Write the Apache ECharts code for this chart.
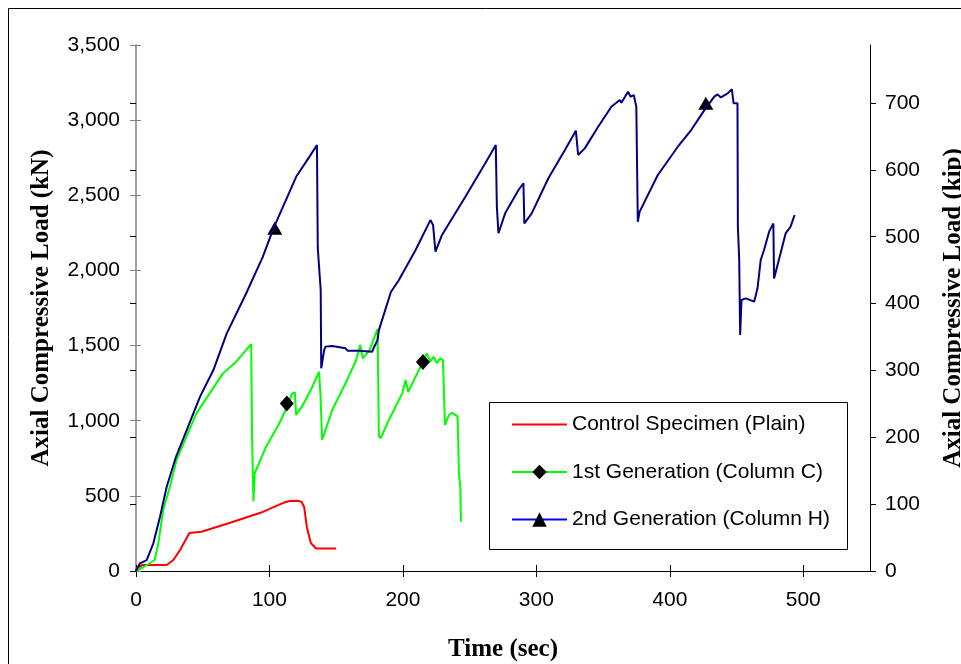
<!DOCTYPE html>
<html>
<head>
<meta charset="utf-8">
<script src="https://cdn.jsdelivr.net/npm/echarts@6/dist/echarts.min.js"></script>
<style>html,body{margin:0;padding:0;background:#fff;}#c{width:961px;height:664px;}</style>
</head>
<body>
<div id="c"></div>
<script>
// ---- data ----
const seriesNames = ['Control Specimen (Plain)', '1st Generation (Column C)', '2nd Generation (Column H)'];
const xTicks = [0, 100, 200, 300, 400, 500];
const kipTicks = [0, 100, 200, 300, 400, 500, 600, 700];

const controlT = [0, 0.5, 5, 23, 28, 33, 40, 49, 70, 95, 110, 115, 121, 124, 126, 128, 131, 135, 145, 150];
const controlV = [0, 20, 40, 40, 73, 140, 253, 261, 319, 393, 452, 466, 468, 461, 426, 293, 186, 150, 150, 150];

const gen1T = [0, 5.5, 14, 16.7, 20.4, 25.4, 30.4, 37.8, 45.3, 55.2, 65.2, 75.1, 86.3, 87, 88, 89, 97.5, 107.5, 112, 117, 119, 120, 125, 131, 137.2, 138.3, 139.5, 147, 157, 165, 168, 170, 175, 181, 182, 183.5, 189.5, 199.5, 202, 204, 209.5, 214.5, 218, 220.5, 223, 225.5, 228, 230, 231.5, 234.5, 237, 241, 242, 243, 243.5];
const gen1V = [0, 25, 73, 184, 406, 561, 738, 894, 1049, 1182, 1315, 1393, 1510, 870, 465, 652, 827, 985, 1071, 1182, 1189, 1038, 1104, 1204, 1326, 1160, 872, 1071, 1249, 1404, 1504, 1415, 1470, 1610, 894, 885, 1005, 1182, 1271, 1193, 1293, 1382, 1448, 1393, 1426, 1382, 1415, 1404, 971, 1038, 1053, 1027, 650, 561, 328];

const gen2T = [0, 3, 8, 13, 18, 23, 30, 38, 48, 58, 68, 82.6, 95, 103, 120, 130, 135.6, 136.2, 138.4, 138.8, 141, 142, 147, 157, 158.5, 167, 177, 178, 181, 182, 191, 197, 209.5, 220.6, 222.6, 224.4, 229.3, 246.8, 261.7, 269.6, 270.4, 271.6, 276.6, 286.6, 290.3, 291, 296.5, 309, 321.4, 329.6, 331.3, 336.3, 346.3, 356.2, 362.5, 363.7, 368.7, 370.6, 373, 374.9, 376, 377.4, 391, 406, 416, 425.9, 433.3, 435.8, 438.3, 443.3, 446.5, 447.8, 450.7, 451, 452, 452.7, 453.7, 457, 463.2, 465.7, 468.1, 470.6, 474.4, 477.6, 478.1, 483, 486.8, 490.5, 493.5];
const gen2V = [0, 51, 73, 184, 361, 561, 760, 938, 1160, 1337, 1581, 1848, 2090, 2280, 2623, 2757, 2834, 2150, 1870, 1349, 1470, 1493, 1497, 1482, 1466, 1466, 1459, 1482, 1537, 1603, 1856, 1936, 2136, 2335, 2302, 2125, 2236, 2490, 2713, 2834, 2424, 2247, 2380, 2535, 2580, 2313, 2380, 2613, 2801, 2930, 2768, 2812, 2956, 3089, 3134, 3116, 3189, 3156, 3167, 3089, 2324, 2391, 2635, 2823, 2934, 3067, 3156, 3171, 3151, 3178, 3205, 3112, 3112, 2291, 2069, 1570, 1803, 1814, 1792, 1881, 2069, 2136, 2258, 2313, 1947, 2114, 2247, 2291, 2369];

const gen1MarkT = [113, 215];
const gen1MarkV = [1115, 1390];
const gen2MarkT = [104, 427];
const gen2MarkV = [2280, 3112];

const KN_PER_KIP = 4.448222;
const KN_MAX = 3500;

// ---- build ----
const zip = (a, b) => a.map((v, i) => [v, b[i]]);
const marks = (a, b) => a.map((v, i) => ({ coord: [v, b[i]] }));

const tickFont = { fontFamily: 'Liberation Sans, Arial, sans-serif', fontSize: 21, color: '#000' };
const titleFont = { fontFamily: 'Liberation Serif, Times New Roman, serif', fontWeight: 'bold', fontSize: 25, color: '#000' };

const chart = echarts.init(document.getElementById('c'), null, { renderer: 'canvas' });
chart.setOption({
  animation: false,
  backgroundColor: '#fff',
  grid: { left: 136, right: 91, top: 45, bottom: 93, containLabel: false, outerBoundsMode: 'none' },
  graphic: [
    { type: 'rect', z: 0, shape: { x: 8.5, y: 8.5, width: 1000, height: 700 }, style: { fill: 'none', stroke: '#000', lineWidth: 1 } },
    { type: 'rect', z: 50, shape: { x: 489.5, y: 402.5, width: 358, height: 147 }, style: { fill: '#fff', stroke: '#000', lineWidth: 1 } }
  ],
  legend: {
    z: 60,
    orient: 'vertical',
    left: 511,
    top: 414,
    itemWidth: 55,
    itemHeight: 18,
    itemGap: 26.5,
    padding: 0,
    textStyle: { fontFamily: 'Liberation Sans, Arial, sans-serif', fontSize: 21, color: '#000', lineHeight: 21 },
    data: [
      { name: seriesNames[0], itemStyle: { color: 'rgba(0,0,0,0)', opacity: 0, borderWidth: 0 } },
      { name: seriesNames[1] },
      { name: seriesNames[2], lineStyle: { color: '#0000ff' } }
    ]
  },
  xAxis: [
    {
      type: 'value', min: 0, max: 550, interval: 100,
      name: 'Time (sec)', nameLocation: 'middle', nameGap: 66, nameTextStyle: titleFont,
      axisLine: { onZero: false, lineStyle: { color: '#000', width: 1 } },
      axisTick: { customValues: xTicks, length: 6, lineStyle: { color: '#000' } },
      axisLabel: { customValues: xTicks, margin: 19, ...tickFont },
      splitLine: { show: false }
    },
    {
      type: 'value', min: 0, max: 550, position: 'bottom',
      axisLine: { show: false },
      axisTick: { customValues: xTicks, inside: true, length: 6, lineStyle: { color: '#000' } },
      axisLabel: { show: false },
      splitLine: { show: false }
    }
  ],
  yAxis: [
    {
      type: 'value', min: 0, max: KN_MAX, interval: 500, position: 'left',
      name: 'Axial Compressive Load (kN)', nameLocation: 'middle', nameRotate: 90, nameGap: 82, nameTextStyle: titleFont,
      axisLine: { show: true, onZero: false, lineStyle: { color: '#808080', width: 1.5 } },
      axisTick: { show: true, length: 6, lineStyle: { color: '#808080' } },
      axisLabel: { margin: 16, ...tickFont, formatter: v => v.toLocaleString('en-US') },
      splitLine: { show: false }
    },
    {
      type: 'value', min: 0, max: KN_MAX / KN_PER_KIP, position: 'right',
      name: 'Axial Compressive Load (kip)', nameLocation: 'middle', nameRotate: 90, nameGap: 71, nameTextStyle: titleFont,
      axisLine: { show: true, onZero: false, lineStyle: { color: '#000', width: 1 } },
      axisTick: { show: true, customValues: kipTicks, length: 6, lineStyle: { color: '#000' } },
      axisLabel: { customValues: kipTicks, margin: 15, ...tickFont },
      splitLine: { show: false }
    },
    {
      type: 'value', min: 0, max: KN_MAX, interval: 500, position: 'left',
      axisLine: { show: false },
      axisTick: { show: true, inside: true, length: 5, lineStyle: { color: '#808080' } },
      axisLabel: { show: false },
      splitLine: { show: false }
    },
    {
      type: 'value', min: 0, max: KN_MAX / KN_PER_KIP, position: 'right',
      axisLine: { show: false },
      axisTick: { show: true, inside: true, customValues: kipTicks, length: 6, lineStyle: { color: '#000' } },
      axisLabel: { show: false },
      splitLine: { show: false }
    }
  ],
  series: [
    {
      name: seriesNames[0], type: 'line', xAxisIndex: 0, yAxisIndex: 0,
      data: zip(controlT, controlV), symbol: 'none', showSymbol: false,
      lineStyle: { color: '#ff0000', width: 2 }, itemStyle: { color: '#ff0000' }, z: 3
    },
    {
      name: seriesNames[1], type: 'line', xAxisIndex: 0, yAxisIndex: 0,
      data: zip(gen1T, gen1V), symbol: 'diamond', symbolSize: 14, showSymbol: false,
      lineStyle: { color: '#00ff00', width: 2 }, itemStyle: { color: '#000' }, z: 4,
      markPoint: { symbol: 'diamond', symbolSize: [14, 16], label: { show: false }, itemStyle: { color: '#000' }, data: marks(gen1MarkT, gen1MarkV) }
    },
    {
      name: seriesNames[2], type: 'line', xAxisIndex: 0, yAxisIndex: 0,
      data: zip(gen2T, gen2V), symbol: 'triangle', symbolSize: 14, showSymbol: false,
      lineStyle: { color: '#000080', width: 2 }, itemStyle: { color: '#000' }, z: 5,
      markPoint: { symbol: 'triangle', symbolSize: [15, 13], label: { show: false }, itemStyle: { color: '#000' }, data: marks(gen2MarkT, gen2MarkV) }
    }
  ]
});
</script>
</body>
</html>
